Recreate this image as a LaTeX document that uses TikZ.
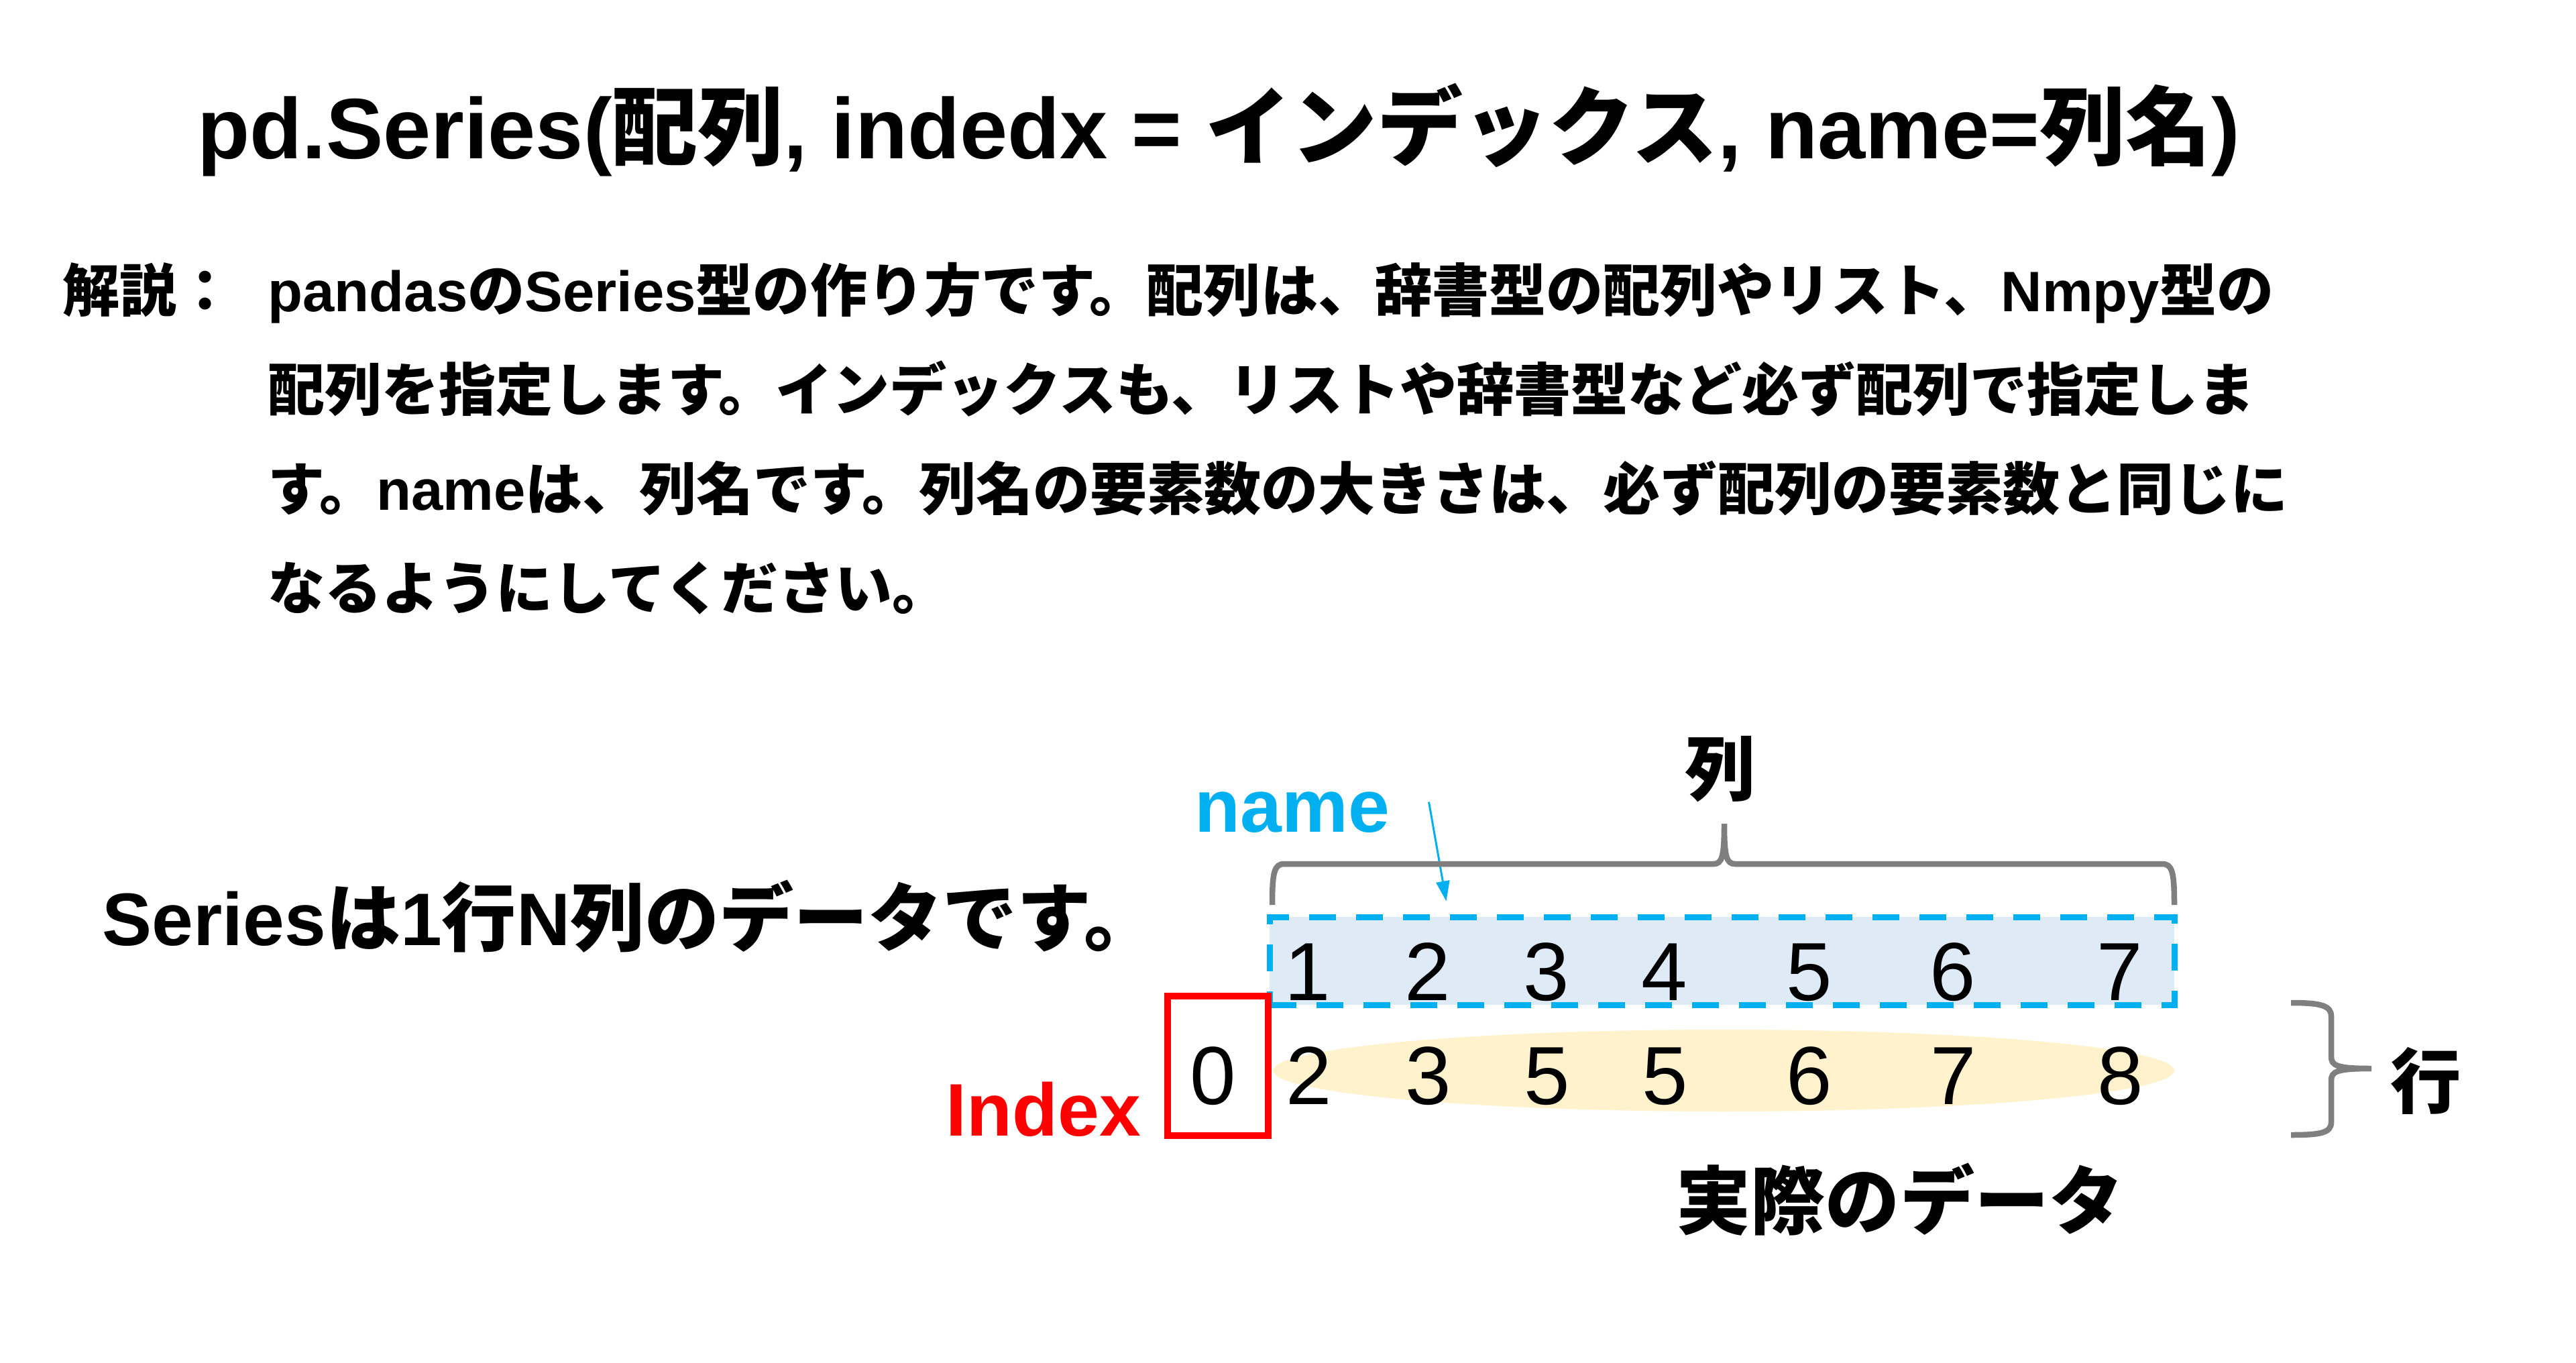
\documentclass[tikz,border=0pt]{standalone}
\usepackage{fontspec}
\usepackage{xcolor}
\usepackage{tikz}
\usetikzlibrary{arrows.meta, positioning, calc}
\setmainfont{Liberation Sans}
\newfontfamily\jp{Noto Sans CJK JP}
\newcommand{\ja}[1]{{\jp #1}}
\definecolor{namecol}{HTML}{00B0F0}
\definecolor{rowfill}{HTML}{DEEBF7}
\definecolor{datafill}{HTML}{FFF2CC}
\definecolor{bracecol}{HTML}{7F7F7F}
\definecolor{idxcol}{HTML}{FF0000}

\begin{document}
\begin{tikzpicture}[
  x=1cm, y=-1cm,
  title/.style={font=\bfseries\fontsize{36.4}{44}\selectfont, inner sep=0pt},
  body/.style={font=\bfseries\fontsize{24.2}{29}\selectfont, inner sep=0pt, anchor=base west},
  big/.style={font=\bfseries\fontsize{31.6}{38}\selectfont, inner sep=0pt},
  lab/.style={font=\bfseries\fontsize{30}{36}\selectfont, inner sep=0pt},
  digit/.style={font=\fontsize{35}{42}\selectfont, inner sep=0pt, anchor=base},
  namebox/.style={rectangle, draw=namecol, fill=rowfill, line width=0.09cm,
                  dash pattern=on 0.4cm off 0.3cm, inner sep=0pt,
                  minimum width=13.49cm, minimum height=1.31cm},
  idxbox/.style={rectangle, draw=idxcol, line width=0.1cm, inner sep=0pt,
                 minimum width=1.5cm, minimum height=2.08cm},
  brace/.style={draw=bracecol, line width=0.085cm},
  arr/.style={-{Triangle[length=0.3cm, width=0.2cm]}, draw=namecol, line width=0.03cm},
]
\useasboundingbox[fill=white] (0,0) rectangle (38.41,20.32);

\node[title, anchor=base] (title) at (18.17,2.36)
  {pd.Series(\ja{配列}, indedx = \ja{インデックス}, name=\ja{列名})};

\node[body] (kaisetsu) at (0.93,4.64) {\ja{解説：}};
\node[body] (line1) at (3.99,4.64)
  {pandas\ja{の}Series\ja{型の作り方です。配列は、辞書型の配列やリスト、}Nmpy\ja{型の}};
\node[body] (line2) at (3.99,6.12)
  {\ja{配列を指定します。インデックスも、リストや辞書型など必ず配列で指定しま}};
\node[body] (line3) at (3.99,7.60)
  {\ja{す。}name\ja{は、列名です。列名の要素数の大きさは、必ず配列の要素数と同じに}};
\node[body] (line4) at (3.99,9.08) {\ja{なるようにしてください。}};

\node[big, anchor=base west] (summary) at (1.52,14.09)
  {Series\ja{は}1\ja{行}N\ja{列のデータです。}};

\fill[datafill] (25.70,15.96) ellipse [x radius=6.72cm, y radius=0.61cm];
\node[namebox] (cols) at (25.675,14.325) {};
\node[idxbox] (idxbox) at (18.16,15.89) {};

\node[digit] (c1) at (19.50,14.91) {1};
\node[digit] (c2) at (21.29,14.91) {2};
\node[digit] (c3) at (23.06,14.91) {3};
\node[digit] (c4) at (24.82,14.91) {4};
\node[digit] (c5) at (26.98,14.91) {5};
\node[digit] (c6) at (29.12,14.91) {6};
\node[digit] (c7) at (31.61,14.91) {7};

\node[digit] (i0) at (18.09,16.46) {0};
\node[digit] (v1) at (19.52,16.46) {2};
\node[digit] (v2) at (21.30,16.46) {3};
\node[digit] (v3) at (23.07,16.46) {5};
\node[digit] (v4) at (24.83,16.46) {5};
\node[digit] (v5) at (26.98,16.46) {6};
\node[digit] (v6) at (29.13,16.46) {7};
\node[digit] (v7) at (31.62,16.46) {8};

\node[big, text=namecol, anchor=base west] (name) at (17.81,12.40) {name};
\node[big, text=idxcol, anchor=base west] (index) at (14.10,16.93) {Index};
\node[lab] (retsu) at (25.65,11.47) {\ja{列}};
\node[lab] (gyou) at (36.17,16.11) {\ja{行}};
\node[big] (jissai) at (28.33,17.88) {\ja{実際のデータ}};

\coordinate (nametip) at ($(cols.north west)+(2.68,-0.19)$);
\draw[arr] ($(name.east)+(0.58,-0.15)$) -- (nametip);

\draw[brace] (18.97,13.49) .. controls (18.97,13.00) and (19.00,12.88) .. (19.15,12.88)
  -- (25.55,12.88) .. controls (25.68,12.88) and (25.71,12.76) .. (25.71,12.28)
  .. controls (25.71,12.76) and (25.74,12.88) .. (25.87,12.88)
  -- (32.24,12.88) .. controls (32.39,12.88) and (32.42,13.00) .. (32.42,13.49);

\draw[brace] (34.16,14.95) .. controls (34.60,14.95) and (34.76,14.99) .. (34.76,15.15)
  -- (34.76,15.75) .. controls (34.76,15.89) and (34.85,15.93) .. (35.36,15.93)
  .. controls (34.85,15.93) and (34.76,15.97) .. (34.76,16.11)
  -- (34.76,16.73) .. controls (34.76,16.89) and (34.60,16.92) .. (34.16,16.92);
\end{tikzpicture}
\end{document}
